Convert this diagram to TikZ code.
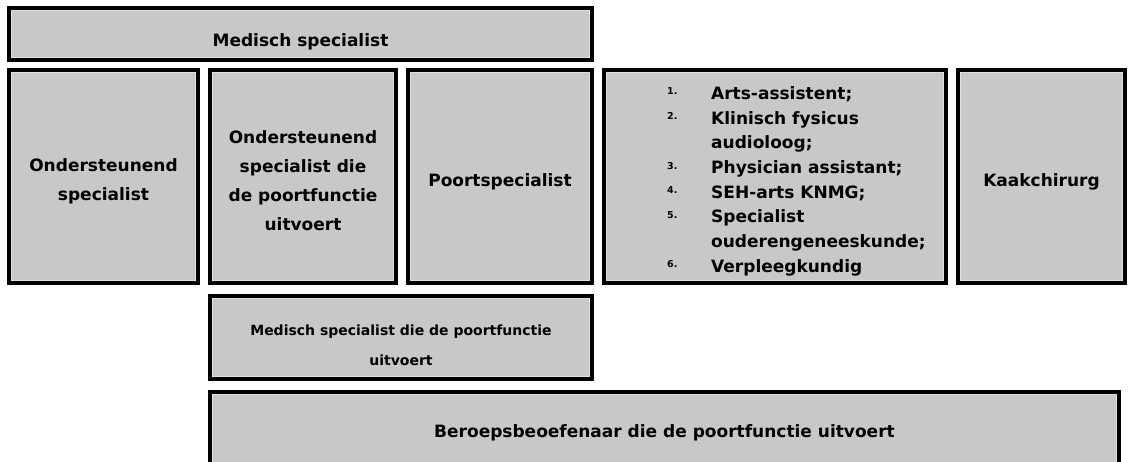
\documentclass[tikz,border=0pt]{standalone}
\usepackage{fontspec}
\setmainfont{DejaVu Sans}
\usetikzlibrary{shapes}
\definecolor{boxgray}{RGB}{200,200,200}
\definecolor{boxline}{RGB}{224,224,224}
\tikzstyle{frame} = [rectangle, draw=black, line width=4pt, fill=boxgray, inner sep=0pt]
\tikzstyle{innerline} = [draw=boxline, line width=1pt]
\tikzstyle{boxtext} = [inner sep=0pt, align=center, font=\bfseries\fontsize{17}{29}\selectfont]
\tikzstyle{smalltext} = [inner sep=0pt, align=center, font=\bfseries\fontsize{14}{30}\selectfont]
\tikzstyle{listtext} = [inner sep=0pt, anchor=west, font=\bfseries\fontsize{17}{24.7}\selectfont]
\newcommand{\nr}[1]{\makebox[44pt][l]{\raisebox{4.5pt}{\fontsize{9.5}{10}\selectfont #1}}}

\begin{document}
\begin{tikzpicture}[x=1pt, y=-1pt]
    \clip (0,0) rectangle (1133,462);
    \fill[white] (0,0) rectangle (1133,462);

    % frames
    \node (medspec) [frame, minimum width=583pt, minimum height=52pt] at (300.5,34) {};
    \node (ondspec) [frame, minimum width=189pt, minimum height=213pt] at (103.5,176.5) {};
    \node (ondpoort) [frame, minimum width=186pt, minimum height=213pt] at (303,176.5) {};
    \node (poortspec) [frame, minimum width=184pt, minimum height=213pt] at (500,176.5) {};
    \node (beroepen) [frame, minimum width=342pt, minimum height=213pt] at (775,176.5) {};
    \node (kaak) [frame, minimum width=167pt, minimum height=213pt] at (1041.5,176.5) {};
    \node (medpoort) [frame, minimum width=382pt, minimum height=83pt] at (401,337.5) {};
    \node (beroeps) [frame, minimum width=909pt, minimum height=82pt] at (664.5,433) {};

    \foreach \b in {medspec, ondspec, ondpoort, poortspec, beroepen, kaak, medpoort, beroeps}
        \draw [innerline] ([xshift=4.5pt, yshift=-4.5pt]\b.north west) rectangle ([xshift=-4.5pt, yshift=4.5pt]\b.south east);

    % texts
    \node (medspec-txt) [boxtext] at (300.5,42) {Medisch specialist};
    \node (ondspec-txt) [boxtext] at (103.5,181) {Ondersteunend\\specialist};
    \node (ondpoort-txt) [boxtext] at (303,180.5) {Ondersteunend\\specialist die\\de poortfunctie\\uitvoert};
    \node (poortspec-txt) [boxtext] at (500,182) {Poortspecialist};
    \node (beroepen-txt) [listtext] at (667,181) {%
        \begin{tabular}{@{}l@{}l@{}}
        \nr{1.} & Arts-assistent;\\
        \nr{2.} & Klinisch fysicus\\
                & audioloog;\\
        \nr{3.} & Physician assistant;\\
        \nr{4.} & SEH-arts KNMG;\\
        \nr{5.} & Specialist\\
                & ouderengeneeskunde;\\
        \nr{6.} & Verpleegkundig
        \end{tabular}};
    \node (kaak-txt) [boxtext] at (1041.5,182) {Kaakchirurg};
    \node (medpoort-txt) [smalltext] at (401,345) {Medisch specialist die de poortfunctie\\uitvoert};
    \node (beroeps-txt) [boxtext] at (664.5,433) {Beroepsbeoefenaar die de poortfunctie uitvoert};
\end{tikzpicture}
\end{document}
